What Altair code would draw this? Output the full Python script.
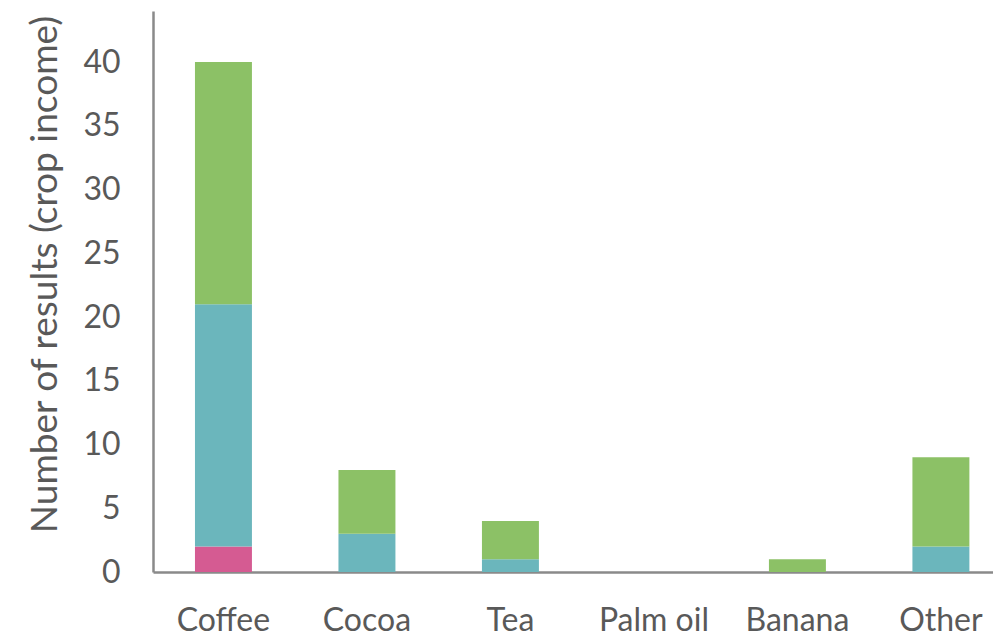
import altair as alt
import pandas as pd

crops = ["Coffee", "Cocoa", "Tea", "Palm oil", "Banana", "Other"]
series = ["Pink", "Teal", "Green"]
pink = [2, 0, 0, 0, 0, 0]
teal = [19, 3, 1, 0, 0, 2]
green = [19, 5, 3, 0, 1, 7]
colors = ["#D55B92", "#6BB6BC", "#8CC166"]
y_ticks = [0, 5, 10, 15, 20, 25, 30, 35, 40]

rows = []
for i, c in enumerate(crops):
    for s, vals in zip(series, [pink, teal, green]):
        rows.append({"crop": c, "series": s, "value": vals[i], "order": series.index(s)})
df = pd.DataFrame(rows)

font = "Lato"
chart = alt.Chart(df).mark_bar().encode(
    x=alt.X("crop:N", sort=crops,
            scale=alt.Scale(paddingInner=0.603, paddingOuter=0.2285, align=0.64),
            axis=alt.Axis(title=None, labelAngle=0, labelFontSize=32, labelFont=font,
                          labelColor="#595959", labelPadding=33, ticks=False,
                          domainColor="#8a8a8a", domainWidth=2.5)),
    y=alt.Y("value:Q", stack="zero",
            scale=alt.Scale(domain=[0, 44], nice=False),
            axis=alt.Axis(title="Number of results (crop income)", values=y_ticks,
                          grid=False, ticks=False, labelFontSize=32, labelFont=font,
                          labelColor="#595959", labelPadding=33,
                          titleFontSize=37, titleFont=font, titleColor="#595959",
                          titleFontWeight="normal", titlePadding=18, titleY=263,
                          domainColor="#8a8a8a", domainWidth=2.5)),
    color=alt.Color("series:N", sort=series,
                    scale=alt.Scale(domain=series, range=colors), legend=None),
    order=alt.Order("order:Q", sort="ascending"),
).properties(
    width=840, height=561,
    autosize=alt.AutoSizeParams(type="none"),
    padding={"left": 145, "top": 3, "right": 0, "bottom": 65},
).configure_view(stroke=None)

chart.save("out.html", embed_options={"renderer": "svg", "actions": False})
